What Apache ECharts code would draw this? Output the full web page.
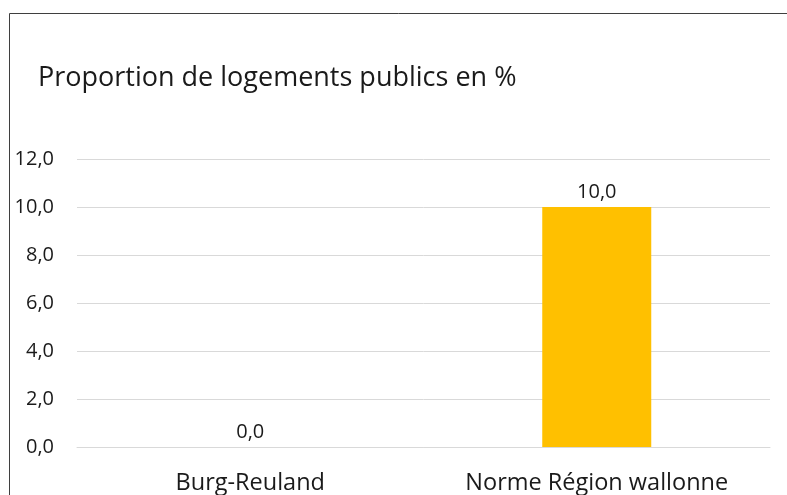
<!DOCTYPE html>
<html><head><meta charset="utf-8">
<script src="https://cdn.jsdelivr.net/npm/echarts@6/dist/echarts.min.js"></script>
<style>html,body{margin:0;padding:0;background:#fff}#c{width:787px;height:495px}</style>
</head><body><div id="c"></div>
<script>
const titleText = 'Proportion de logements publics en %';
const categories = ['Burg-Reuland', 'Norme Région wallonne'];
const values = [0.0, 10.0];
const yTicks = { min: 0, max: 12, interval: 2 };
const fmt = v => Number(v).toFixed(1).replace('.', ',');
const FONT = '"Open Sans", sans-serif';
const chart = echarts.init(document.getElementById('c'), null, {renderer: 'canvas'});
chart.setOption({
  animation: false,
  backgroundColor: '#fff',
  title: { text: titleText, left: 33, top: 60, textStyle: { fontFamily: FONT, fontSize: 27, fontWeight: 'normal', color: '#1a1a1a' } },
  graphic: [{ type: 'rect', shape: { x: 9.5, y: 13.5, width: 900, height: 600 }, style: { fill: 'none', stroke: '#3f3f3f', lineWidth: 1 }, silent: true }],
  grid: { left: 77, right: 17, top: 159, bottom: 48, containLabel: false },
  xAxis: {
    type: 'category', data: categories,
    axisLine: { show: true, lineStyle: { color: '#d9d9d9' } },
    axisTick: { show: false },
    axisLabel: { fontFamily: FONT, fontSize: 23.5, color: '#1a1a1a', margin: 24 }
  },
  yAxis: {
    type: 'value', min: yTicks.min, max: yTicks.max, interval: yTicks.interval,
    axisLine: { show: false }, axisTick: { show: false },
    splitLine: { lineStyle: { color: '#d9d9d9' } },
    axisLabel: { fontFamily: FONT, fontSize: 20, color: '#1a1a1a', margin: 23, formatter: fmt }
  },
  series: [{
    type: 'bar', data: values, barWidth: 109,
    itemStyle: { color: '#ffc000' },
    label: { show: true, position: 'top', distance: 5, fontFamily: FONT, fontSize: 20, color: '#1a1a1a', formatter: p => fmt(p.value) }
  }]
});
</script></body></html>
